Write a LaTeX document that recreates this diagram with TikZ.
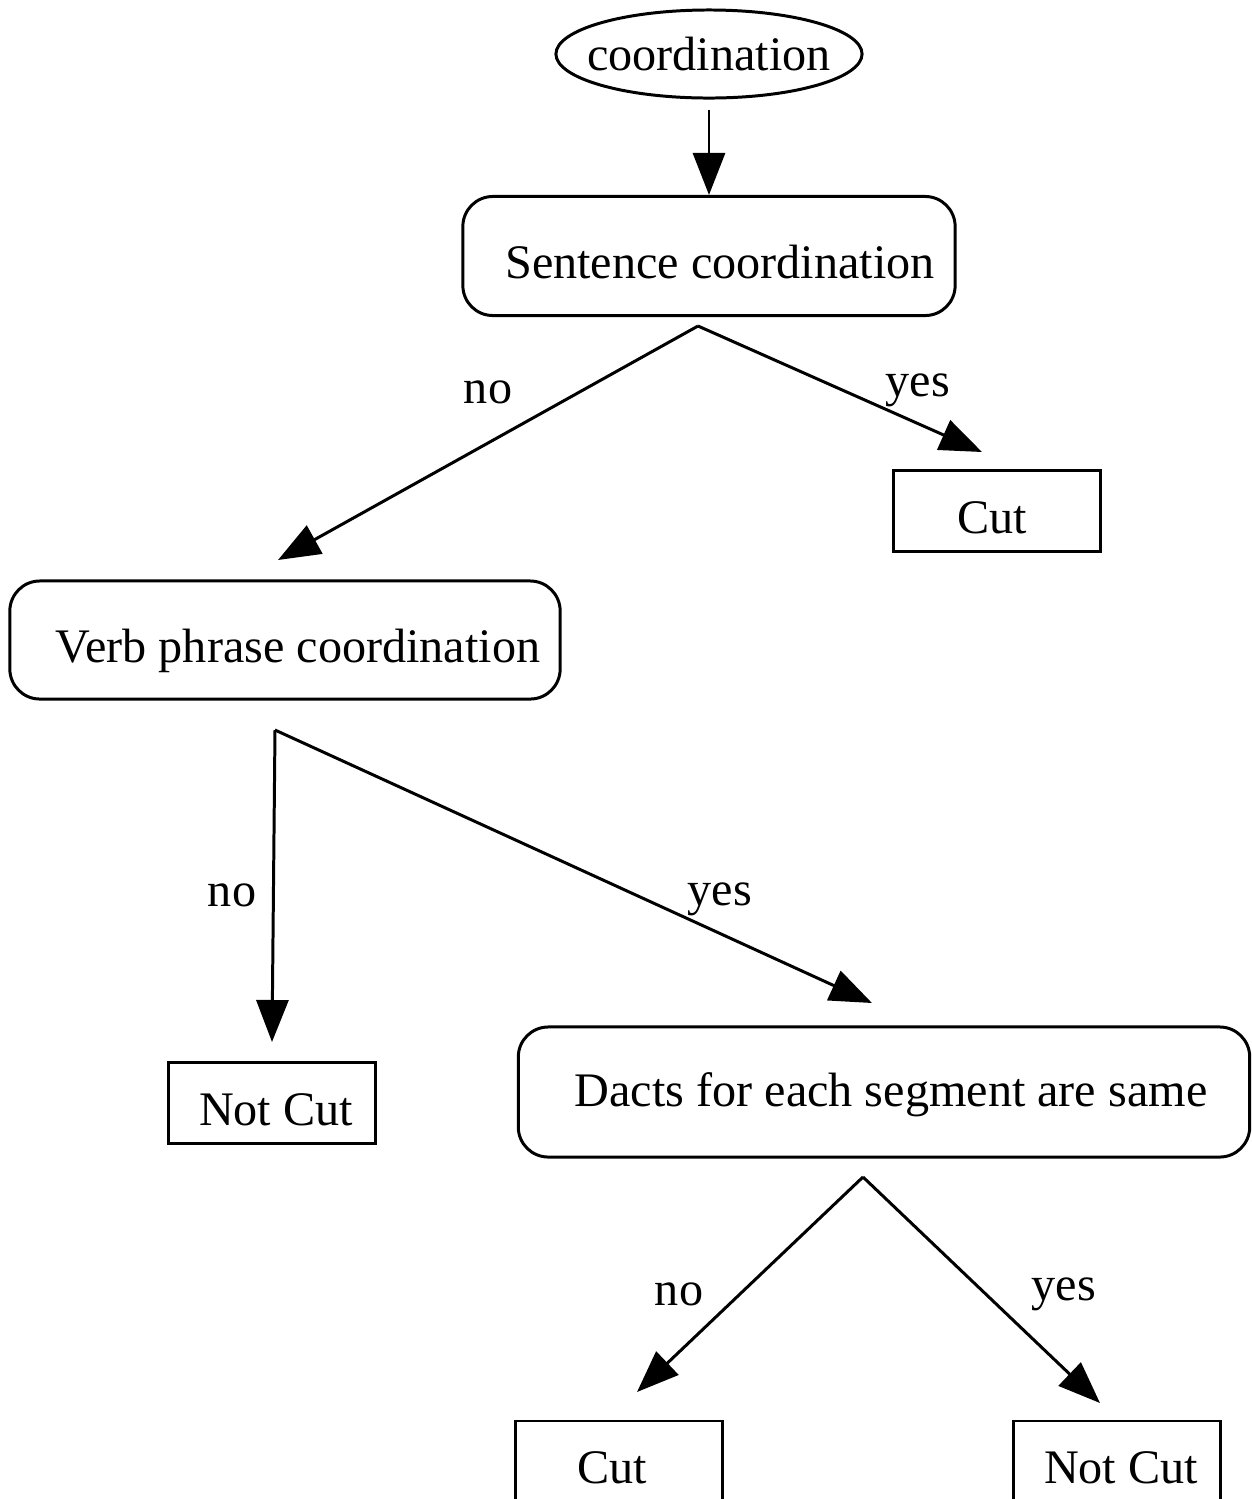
\documentclass[tikz,border=0pt]{standalone}
\usepackage{fontspec}
\setmainfont{Liberation Serif}
\usepackage{tikz}
\usetikzlibrary{arrows.meta,shapes.geometric}

\begin{document}
\begin{tikzpicture}[x=0.01cm,y=-0.01cm]
\tikzstyle{every node}=[font=\fontsize{13.7pt}{16pt}\selectfont,inner sep=0pt]
\tikzstyle{test}=[draw,rounded corners=0.3cm,line width=0.85pt,text height=13pt,text depth=0pt]
\tikzstyle{leaf}=[draw,rectangle,line width=0.85pt,minimum width=2.07cm,minimum height=0.8cm,text height=13pt,text depth=0pt]
\tikzstyle{answer}=[anchor=base]
\tikzstyle{branch}=[line width=0.85pt,-{Triangle[length=0.42cm,width=0.32cm]}]
\useasboundingbox (0,0) rectangle (1252,1499);
\clip (0,0) rectangle (1252,1499);
% questions
\node[draw,ellipse,line width=0.85pt,inner xsep=-0.135cm,minimum width=3.05cm,minimum height=0.88cm] (coord) at (709,54) {coordination};
\node[test,minimum width=4.92cm,minimum height=1.19cm] (sent) at (709,256) {\hspace*{0.22cm}Sentence coordination};
\node[test,minimum width=5.5cm,minimum height=1.18cm] (verb) at (285,640) {\hspace*{0.26cm}Verb phrase coordination};
\node[test,minimum width=7.31cm,minimum height=1.3cm,text height=8.5pt] (dacts) at (884,1092) {\hspace*{0.14cm}Dacts for each segment are same};
% answers
\node[leaf] (cut1) at (997,511) {Cut\hspace*{0.1cm}};
\node[leaf] (notcut1) at (272,1103) {\hspace*{0.08cm}Not Cut};
\node[leaf] (cut2) at (619,1461) {Cut\hspace*{0.14cm}};
\node[leaf] (notcut2) at (1117,1461) {\hspace*{0.08cm}Not Cut};
% split points and arrow ends
\foreach \name/\point in {
	s1/{698,326},
	s1no/{278,560},
	s1yes/{982,452},
	s2/{275,730},
	s2no/{272,1042},
	s2yes/{872,1003},
	s3/{863,1177},
	s3no/{637,1392},
	s3yes/{1100,1403}}
	\coordinate (\name) at (\point);
\draw[branch,shorten <=0.1cm] (coord) -- (sent);
\foreach \s in {s1,s2,s3}{
	\draw[branch] (\s) -- (\s no);
	\draw[branch] (\s) -- (\s yes);
}
% labels
\node[answer] (no1) at (488,403) {no};
\node[answer] (yes1) at (918,396) {yes};
\node[answer] (no2) at (232,906) {no};
\node[answer] (yes2) at (720,905) {yes};
\node[answer] (no3) at (679,1305) {no};
\node[answer] (yes3) at (1064,1300) {yes};
\end{tikzpicture}
\end{document}
